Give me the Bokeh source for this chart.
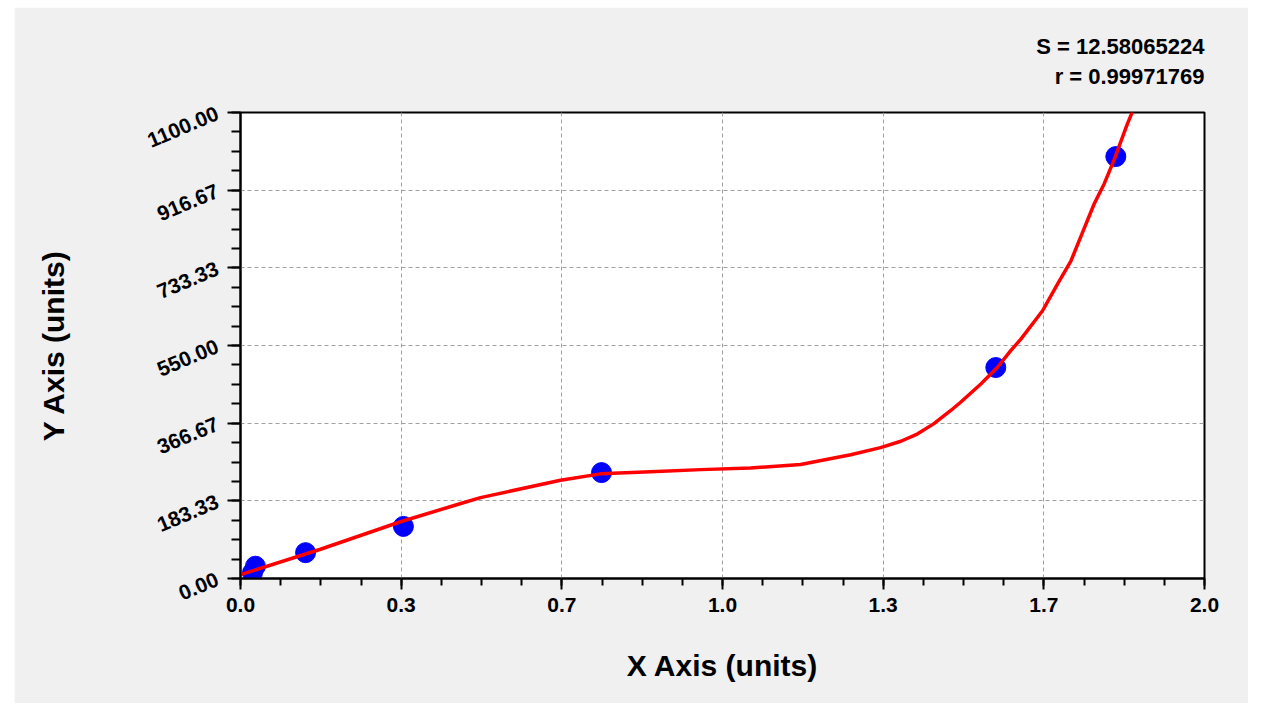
from bokeh.plotting import figure
from bokeh.models import Range1d, FixedTicker, Title
from bokeh.embed import file_html
from bokeh.resources import INLINE

# data
point_x = [0.025, 0.031, 0.135, 0.338, 0.749, 1.567, 1.816]
point_y = [14, 29, 61, 123, 250, 498, 996]

curve_x = [0.0, 0.166, 0.332, 0.457, 0.498, 0.664, 0.747, 0.851, 0.955, 1.058,
           1.162, 1.266, 1.328, 1.370, 1.404, 1.438, 1.473, 1.494, 1.536, 1.570,
           1.598, 1.619, 1.664, 1.695, 1.723, 1.747, 1.771, 1.792, 1.812, 1.840,
           1.856]
curve_y = [9, 69, 134, 177, 191, 232, 247, 252, 257, 261,
           269, 292, 309, 324, 341, 365, 396, 416, 459, 498,
           538, 565, 632, 695, 750, 817, 884, 932, 987, 1073,
           1117]

x_ticks = [0.0, 1/3, 2/3, 1.0, 4/3, 5/3, 2.0]
x_tick_labels = ["0.0", "0.3", "0.7", "1.0", "1.3", "1.7", "2.0"]
y_ticks = [0.0, 1100/6, 2200/6, 550.0, 4400/6, 5500/6, 1100.0]
y_tick_labels = ["0.00", "183.33", "366.67", "550.00", "733.33", "916.67", "1100.00"]

stat_s = "S = 12.58065224"
stat_r = "r = 0.99971769"

FONT = "Liberation Sans"

p = figure(width=1234, height=696, output_backend="svg", toolbar_location=None,
           x_range=Range1d(0, 2), y_range=Range1d(0, 1100),
           min_border_left=226, min_border_right=44, min_border_top=105,
           min_border_bottom=125, margin=(7, 0, 0, 14))
p.border_fill_color = "#f0f0f0"
p.background_fill_color = "white"
p.outline_line_color = "black"
p.outline_line_width = 2

x_minor = [i * 2 / 24 for i in range(25)]
y_minor = [i * 1100 / 24 for i in range(25)]
p.xaxis.ticker = FixedTicker(ticks=x_ticks, minor_ticks=x_minor)
p.yaxis.ticker = FixedTicker(ticks=y_ticks, minor_ticks=y_minor)
p.xaxis.major_label_overrides = {t: l for t, l in zip(x_ticks, x_tick_labels)}
p.yaxis.major_label_overrides = {t: l for t, l in zip(y_ticks, y_tick_labels)}

for ax in (p.xaxis, p.yaxis):
    ax.axis_line_color = "black"
    ax.axis_line_width = 2
    ax.major_tick_line_color = "black"
    ax.major_tick_line_width = 2
    ax.minor_tick_line_color = "black"
    ax.minor_tick_line_width = 2
    ax.major_tick_in = 0
    ax.minor_tick_in = 0
    ax.major_label_text_font = FONT
    ax.major_label_text_font_style = "bold"
    ax.major_label_text_font_size = "21px"
    ax.major_label_text_color = "black"
    ax.axis_label_text_font = FONT
    ax.axis_label_text_font_style = "bold"
    ax.axis_label_text_font_size = "30px"
    ax.axis_label_text_color = "black"

p.xaxis.major_tick_out = 11
p.xaxis.minor_tick_out = 7
p.yaxis.major_tick_out = 13
p.yaxis.minor_tick_out = 9
p.yaxis.major_label_orientation = 0.4
p.yaxis.major_label_standoff = 10
p.xaxis.major_label_standoff = 8
p.xaxis.axis_label = "X Axis (units)"
p.yaxis.axis_label = "Y Axis (units)"
p.xaxis.axis_label_standoff = 34
p.yaxis.axis_label_standoff = 70

p.grid.grid_line_color = "#a0a0a0"
p.grid.grid_line_dash = "4 3"
p.grid.grid_line_width = 1

p.scatter(point_x, point_y, size=20, color="#0000ff", line_color="#0000ff")
p.line(curve_x, curve_y, line_color="#ff0000", line_width=3.5)

# the second line is padded with no-break spaces so both lines end at the same right edge
p.add_layout(Title(text=stat_s + "\n" + "\u00a0\u00a0\u00a0" + stat_r, align="right",
                   text_font=FONT, text_font_style="bold", text_font_size="22px",
                   text_color="black", text_line_height=1.2, standoff=48), "above")

open("out.html", "w").write(file_html(p, INLINE))
